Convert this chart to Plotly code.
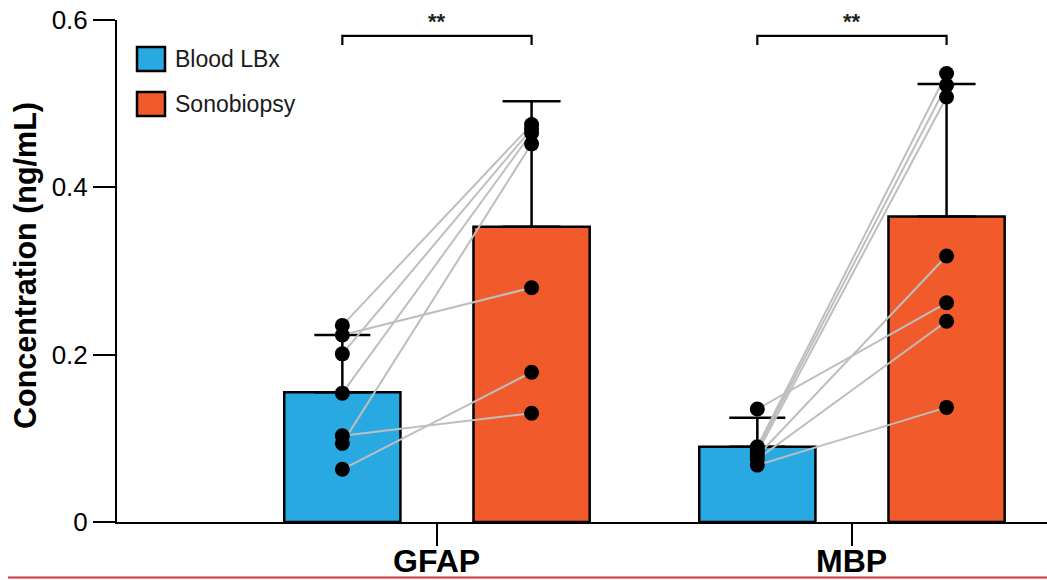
import plotly.graph_objects as go

# ---------------- data ----------------
categories = ["GFAP", "MBP"]
series_names = ["Blood LBx", "Sonobiopsy"]

blood_means = [0.155, 0.090]
blood_sd = [0.0685, 0.0345]
sono_means = [0.353, 0.365]
sono_sd = [0.150, 0.1585]

# paired individual samples (blood -> sonobiopsy)
gfap_blood = [0.235, 0.2235, 0.201, 0.154, 0.103, 0.094, 0.063]
gfap_sono = [0.475, 0.280, 0.470, 0.465, 0.130, 0.452, 0.179]
mbp_blood = [0.135, 0.090, 0.087, 0.083, 0.079, 0.075, 0.068]
mbp_sono = [0.262, 0.536, 0.522, 0.508, 0.318, 0.240, 0.137]

significance = ["**", "**"]
y_ticks = [0, 0.2, 0.4, 0.6]
y_ticktext = ["0", "0.2", "0.4", "0.6"]

# ---------------- styling ----------------
BLUE = "#29A9E1"
ORANGE = "#F15A2A"
FONT = "Liberation Sans, Arial, Helvetica, sans-serif"
OFF = 0.228
BAR_W = 0.28

cat_idx = list(range(len(categories)))
x_blood = [i - OFF for i in cat_idx]
x_sono = [i + OFF for i in cat_idx]

fig = go.Figure()

fig.add_trace(go.Bar(
    x=x_blood, y=blood_means, width=BAR_W, name=series_names[0],
    marker=dict(color=BLUE, line=dict(color="black", width=2.5)),
    error_y=dict(type="data", symmetric=False, array=blood_sd,
                 arrayminus=[0] * len(blood_sd), color="black",
                 thickness=2.5, width=28),
    showlegend=False,
))
fig.add_trace(go.Bar(
    x=x_sono, y=sono_means, width=BAR_W, name=series_names[1],
    marker=dict(color=ORANGE, line=dict(color="black", width=2.5)),
    error_y=dict(type="data", symmetric=False, array=sono_sd,
                 arrayminus=[0] * len(sono_sd), color="black",
                 thickness=2.5, width=29),
    showlegend=False,
))

pairs = [(gfap_blood, gfap_sono), (mbp_blood, mbp_sono)]
lx, ly = [], []
for i, (b, s) in enumerate(pairs):
    for vb, vs in zip(b, s):
        lx += [x_blood[i], x_sono[i], None]
        ly += [vb, vs, None]
fig.add_trace(go.Scatter(x=lx, y=ly, mode="lines",
                         line=dict(color="#BEBEBE", width=2),
                         showlegend=False, hoverinfo="skip"))

px_, py_ = [], []
for i, (b, s) in enumerate(pairs):
    px_ += [x_blood[i]] * len(b) + [x_sono[i]] * len(s)
    py_ += list(b) + list(s)
fig.add_trace(go.Scatter(x=px_, y=py_, mode="markers",
                         marker=dict(color="black", size=15),
                         showlegend=False, cliponaxis=False))

shapes = []
annotations = []
# significance brackets
for i, sig in enumerate(significance):
    shapes.append(dict(type="path", xref="x", yref="y",
                       path=f"M {x_blood[i]},0.570 L {x_blood[i]},0.581 L {x_sono[i]},0.581 L {x_sono[i]},0.570",
                       line=dict(color="black", width=2.2)))
    annotations.append(dict(x=cat_idx[i], y=0.598, xref="x", yref="y", text=f"<b>{sig}</b>",
                            showarrow=False, font=dict(size=22, color="#222", family=FONT)))

# custom legend
W, H = 930, 502
def px2paper_x(p):
    return (p - 117) / W
def px2paper_y(p):
    return (522 - p) / H

legend_items = [(series_names[0], BLUE, 47, 71), (series_names[1], ORANGE, 92, 116)]
for name, col, y0, y1 in legend_items:
    shapes.append(dict(type="rect", xref="paper", yref="paper",
                       x0=px2paper_x(137), x1=px2paper_x(165),
                       y0=px2paper_y(y1), y1=px2paper_y(y0),
                       fillcolor=col, line=dict(color="black", width=2.5)))
    annotations.append(dict(x=px2paper_x(173), y=px2paper_y((y0 + y1) / 2),
                            xref="paper", yref="paper", text=name, showarrow=False,
                            xanchor="left", yanchor="middle",
                            font=dict(size=23, color="#1a1a1a", family=FONT)))

# category labels (x axis)
for i, cat in enumerate(categories):
    annotations.append(dict(x=cat_idx[i], y=px2paper_y(561), xref="x", yref="paper",
                            text=f"<b>{cat}</b>", showarrow=False,
                            xanchor="center", yanchor="middle",
                            font=dict(size=32, color="black", family=FONT)))

# y title
annotations.append(dict(x=px2paper_x(25), y=px2paper_y(266), xref="paper", yref="paper",
                        text="<b>Concentration (ng/mL)</b>", textangle=-90, showarrow=False,
                        xanchor="center", yanchor="middle",
                        font=dict(size=30.5, color="black", family=FONT)))

# red rule at bottom
shapes.append(dict(type="line", xref="paper", yref="paper",
                   x0=px2paper_x(8), x1=1.0, y0=px2paper_y(577.5), y1=px2paper_y(577.5),
                   line=dict(color="#D0343F", width=2)))

fig.update_layout(
    width=1047, height=580,
    margin=dict(l=117, r=0, t=20, b=58, autoexpand=False),
    paper_bgcolor="white", plot_bgcolor="white",
    barmode="overlay",
    shapes=shapes, annotations=annotations,
    font=dict(family=FONT, color="black"),
    xaxis=dict(range=[-0.771, 1.47], tickvals=cat_idx, showticklabels=False,
               ticks="outside", ticklen=22, tickwidth=2, tickcolor="black",
               showline=True, linewidth=2, linecolor="black",
               showgrid=False, zeroline=False, automargin=False),
    yaxis=dict(range=[0, 0.6], tickvals=y_ticks, ticktext=y_ticktext,
               ticks="outside", ticklen=22, tickwidth=2, tickcolor="black",
               showline=True, linewidth=2, linecolor="black",
               showgrid=False, zeroline=False, automargin=False,
               tickfont=dict(size=26, family=FONT, color="black")),
)

fig.write_html("out.html", config={"displayModeBar": False},
               post_script="document.body.style.margin='0px';document.body.style.overflow='hidden';")
